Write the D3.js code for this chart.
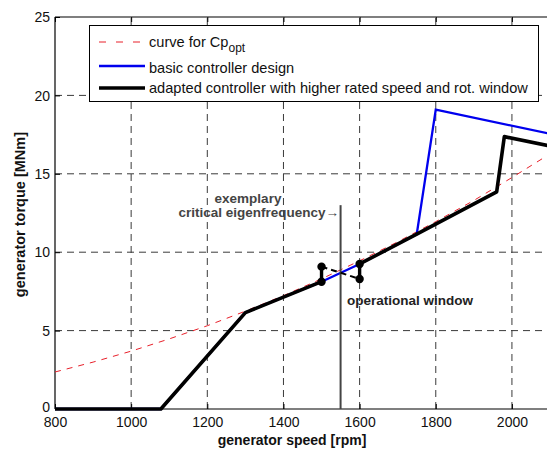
<!DOCTYPE html>
<html>
<head>
<meta charset="utf-8">
<script src="https://cdn.jsdelivr.net/npm/d3@7"></script>
<style>
  body { margin: 0; background: #fff; }
  text { font-family: "Liberation Sans", Arial, sans-serif; }
</style>
</head>
<body>
<div id="chart"></div>
<script>
// values
var speedTicks = [800, 1000, 1200, 1400, 1600, 1800, 2000];
var torqueTicks = [0, 5, 10, 15, 20, 25];

// curve for Cp_opt
var cpSpeed  = [800, 900, 1000, 1100, 1200, 1300, 1400, 1500, 1600, 1700, 1800, 1900, 2000, 2100];
var cpTorque = [2.36, 2.99, 3.69, 4.47, 5.31, 6.24, 7.23, 8.30, 9.45, 10.66, 11.95, 13.3, 14.76, 16.27];

// basic controller design
var basicSpeed  = [800, 1078, 1300, 1500, 1600, 1750, 1800, 2100];
var basicTorque = [0, 0, 6.15, 8.12, 9.25, 11.15, 19.1, 17.55];

// adapted controller, lower part / upper part (gap = operational window)
var adaptLowSpeed  = [800, 1078, 1300, 1500];
var adaptLowTorque = [0, 0, 6.15, 8.12];
var adaptHighSpeed  = [1600, 1750, 1960, 1980, 2100];
var adaptHighTorque = [9.25, 11.15, 13.85, 17.37, 16.77];

// operational window corners
var winSpeed  = [1500, 1500, 1600, 1600];
var winTorque = [8.12, 9.08, 8.29, 9.25];

var eigenSpeed = 1550, eigenTop = 13;

var svg = d3.select("#chart").append("svg")
    .attr("width", 547)
    .attr("height", 449);

var x = d3.scaleLinear().domain([800, 2100]).range([55, 550]);
var y = d3.scaleLinear().domain([0, 25]).range([409, 17]);

// dashed grid
svg.append("g").selectAll("line")
  .data(speedTicks.slice(1))
  .enter().append("line")
  .attr("x1", function(d){ return x(d); }).attr("x2", function(d){ return x(d); })
  .attr("y1", y(0)).attr("y2", y(25))
  .attr("stroke", "#3a3a3a").attr("stroke-width", 1).attr("stroke-dasharray", "7,5");
svg.append("g").selectAll("line")
  .data(torqueTicks.slice(1, -1))
  .enter().append("line")
  .attr("x1", x(800)).attr("x2", x(2100))
  .attr("y1", function(d){ return y(d); }).attr("y2", function(d){ return y(d); })
  .attr("stroke", "#3a3a3a").attr("stroke-width", 1).attr("stroke-dasharray", "7,5");

// axes
var xAxis = d3.axisBottom(x).tickValues(speedTicks).tickSize(-5).tickPadding(8).tickFormat(d3.format("d"));
var xAxisTop = d3.axisTop(x).tickValues(speedTicks).tickSize(-5).tickFormat("");
var yAxis = d3.axisLeft(y).tickValues(torqueTicks).tickSize(-5).tickPadding(5).tickFormat(d3.format("d"));

var gx = svg.append("g").attr("transform", "translate(0," + y(0) + ")").call(xAxis);
var gt = svg.append("g").attr("transform", "translate(0," + y(25) + ")").call(xAxisTop);
var gy = svg.append("g").attr("transform", "translate(" + x(800) + ",0)").call(yAxis);
[gx, gt, gy].forEach(function(g){
  g.select(".domain").attr("stroke", "#000").attr("stroke-width", 1.2);
  g.selectAll(".tick line").attr("stroke", "#000");
  g.selectAll("text").attr("fill", "#111").style("font-size", "14px")
    .style("font-family", "'Liberation Sans', Arial, sans-serif");
});
gx.select(".domain").attr("d", "M" + x(800) + ",0H" + x(2100));
gt.select(".domain").attr("d", "M" + x(800) + ",0H" + x(2100));
gy.select(".domain").attr("d", "M0," + y(0) + "V" + y(25));
gy.selectAll(".tick text").attr("dy", function(d){ return d === 0 ? "0.2em" : "0.34em"; });

var line = d3.line()
  .x(function(d){ return x(d[0]); })
  .y(function(d){ return y(d[1]); });
function pairs(a, b){ return a.map(function(v, i){ return [v, b[i]]; }); }

svg.append("path").datum(pairs(cpSpeed, cpTorque))
  .attr("d", line).attr("fill", "none")
  .attr("stroke", "#e8202a").attr("stroke-width", 1).attr("stroke-dasharray", "6,6");

svg.append("path").datum(pairs(basicSpeed, basicTorque))
  .attr("d", line).attr("fill", "none")
  .attr("stroke", "#0000ee").attr("stroke-width", 2.3);

// critical eigenfrequency
svg.append("line")
  .attr("x1", x(eigenSpeed)).attr("x2", x(eigenSpeed))
  .attr("y1", y(0)).attr("y2", y(eigenTop))
  .attr("stroke", "#444").attr("stroke-width", 2);

[pairs(adaptLowSpeed, adaptLowTorque), pairs(adaptHighSpeed, adaptHighTorque)].forEach(function(p){
  svg.append("path").datum(p)
    .attr("d", line).attr("fill", "none")
    .attr("stroke", "#000").attr("stroke-width", 3.6).attr("stroke-linejoin", "round");
});

var w = pairs(winSpeed, winTorque);
svg.append("path").datum([w[0], w[1]]).attr("d", line).attr("stroke", "#000").attr("stroke-width", 3.4);
svg.append("path").datum([w[2], w[3]]).attr("d", line).attr("stroke", "#000").attr("stroke-width", 3.4);
svg.append("path").datum([w[1], w[2]]).attr("d", line).attr("stroke", "#000")
  .attr("stroke-width", 2).attr("stroke-dasharray", "6,4");
svg.append("g").selectAll("circle").data(w).enter().append("circle")
  .attr("cx", function(d){ return x(d[0]); })
  .attr("cy", function(d){ return y(d[1]); })
  .attr("r", 4.2).attr("fill", "#000");

// annotations
svg.append("text").attr("x", 248).attr("y", 203).attr("text-anchor", "middle")
  .attr("fill", "#444").style("font-size", "13.5px").style("font-weight", "bold").text("exemplary");
svg.append("text").attr("x", 339).attr("y", 217).attr("text-anchor", "end")
  .attr("fill", "#444").style("font-size", "13.5px").style("font-weight", "bold").text("critical eigenfrequency\u2192");
svg.append("text").attr("x", 347).attr("y", 305)
  .attr("fill", "#222").style("font-size", "13.5px").style("font-weight", "bold").text("operational window");

// axis titles
svg.append("text").attr("x", 292).attr("y", 445).attr("text-anchor", "middle")
  .attr("fill", "#111").style("font-size", "14px").style("font-weight", "bold").text("generator speed [rpm]");
svg.append("text").attr("transform", "translate(25," + y(12.4) + ") rotate(-90)")
  .attr("text-anchor", "middle")
  .attr("fill", "#111").style("font-size", "14.5px").style("font-weight", "bold").text("generator torque [MNm]");

// legend
var lg = svg.append("g");
lg.append("rect").attr("x", 89.5).attr("y", 25.5).attr("width", 449).attr("height", 76)
  .attr("fill", "#fff").attr("stroke", "#000").attr("stroke-width", 1);
var items = [
  { y: 42, color: "#e8202a", width: 1, dash: "7,10" },
  { y: 66, color: "#0000ee", width: 2.3, dash: null },
  { y: 88, color: "#000", width: 3.6, dash: null }
];
items.forEach(function(it){
  lg.append("line").attr("x1", 99).attr("x2", 145).attr("y1", it.y).attr("y2", it.y)
    .attr("stroke", it.color).attr("stroke-width", it.width)
    .attr("stroke-dasharray", it.dash);
});
var t1 = lg.append("text").attr("x", 149).attr("y", 47).attr("fill", "#111").style("font-size", "14.6px");
t1.append("tspan").text("curve for Cp");
t1.append("tspan").attr("dy", 5).style("font-size", "12px").text("opt");
lg.append("text").attr("x", 149).attr("y", 73).attr("fill", "#111").style("font-size", "14.6px")
  .text("basic controller design");
lg.append("text").attr("x", 149).attr("y", 93).attr("fill", "#111").style("font-size", "14.6px")
  .text("adapted controller with higher rated speed and rot. window");
</script>
</body>
</html>
